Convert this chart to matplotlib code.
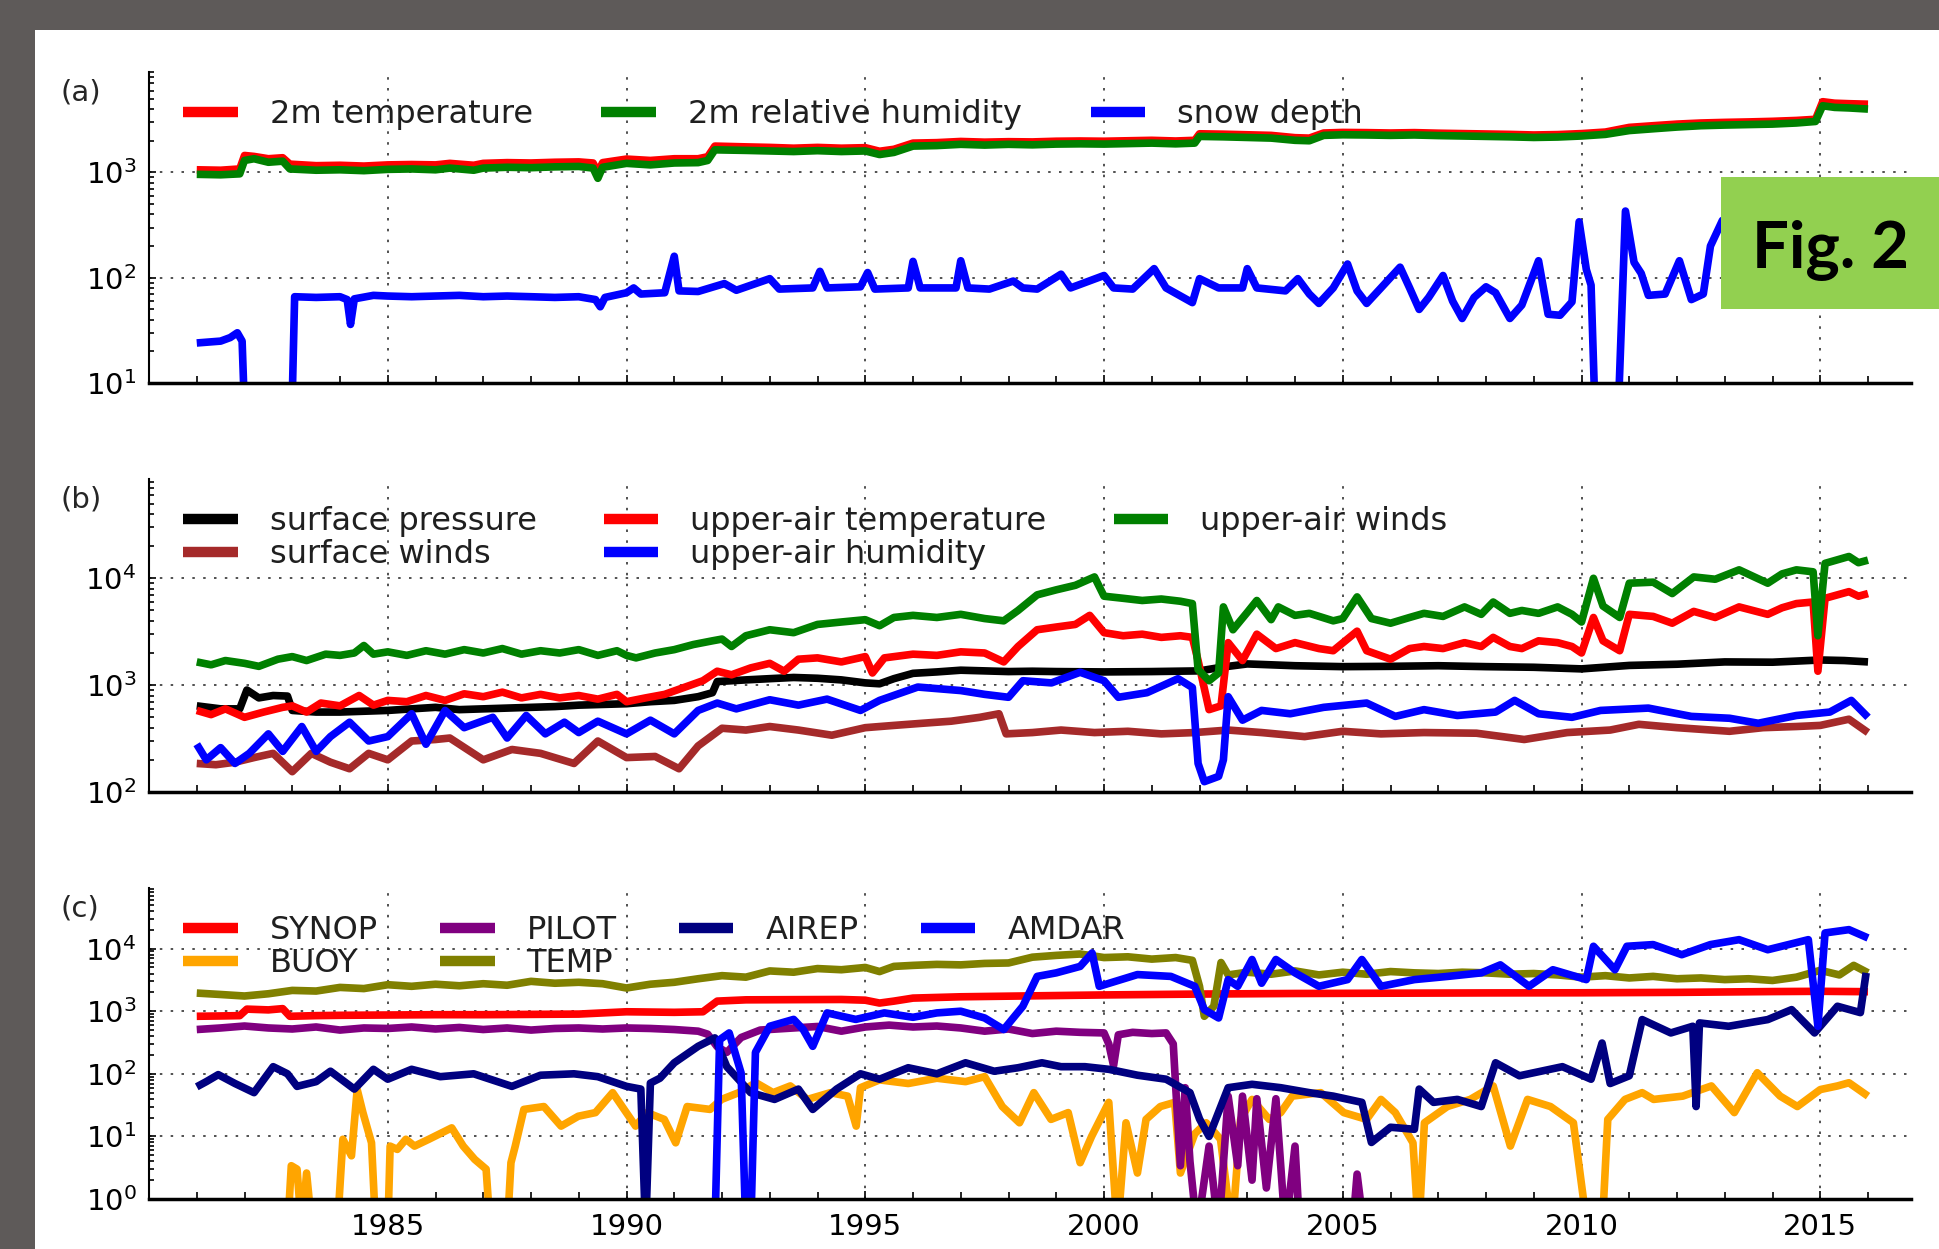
import numpy as np
import matplotlib
matplotlib.use("Agg")
import matplotlib.pyplot as plt
from matplotlib.patches import Rectangle
from matplotlib.ticker import LogLocator, NullFormatter, FixedLocator, MultipleLocator

# ---------------- panel (a): surface observations (year, count) ----------------
t2m = [(1981.0, 1060), (1981.5, 1050), (1981.9, 1080), (1982.0, 1450), (1982.2, 1420),
       (1982.5, 1350), (1982.8, 1380), (1982.95, 1200), (1983.5, 1160), (1984.0, 1170),
       (1984.5, 1150), (1985.0, 1180), (1985.5, 1190), (1986.0, 1180), (1986.3, 1220),
       (1986.8, 1170), (1987.0, 1220), (1987.5, 1240), (1988.0, 1230), (1988.5, 1250),
       (1989.0, 1260), (1989.3, 1230), (1989.4, 1000), (1989.5, 1240), (1990.0, 1340),
       (1990.5, 1300), (1991.0, 1350), (1991.5, 1350), (1991.7, 1410), (1991.85, 1780),
       (1992.5, 1750), (1993.0, 1730), (1993.5, 1700), (1994.0, 1730), (1994.5, 1700),
       (1995.0, 1720), (1995.3, 1590), (1995.6, 1660), (1996.0, 1900), (1996.5, 1920),
       (1997.0, 1970), (1997.5, 1940), (1998.0, 1960), (1998.5, 1950), (1999.0, 1980),
       (1999.5, 1990), (2000.0, 1980), (2000.5, 2000), (2001.0, 2020), (2001.5, 1990),
       (2001.9, 2020), (2002.0, 2330), (2002.5, 2310), (2003.0, 2280), (2003.5, 2250),
       (2004.0, 2140), (2004.3, 2120), (2004.6, 2370), (2005.0, 2400), (2005.5, 2390),
       (2006.0, 2370), (2006.5, 2390), (2007.0, 2360), (2007.5, 2340), (2008.0, 2320),
       (2008.5, 2300), (2009.0, 2270), (2009.5, 2290), (2010.0, 2340), (2010.5, 2420),
       (2011.0, 2680), (2011.5, 2780), (2012.0, 2880), (2012.5, 2950), (2013.0, 2990),
       (2013.5, 3020), (2014.0, 3060), (2014.5, 3120), (2014.9, 3200), (2015.05, 4700),
       (2015.3, 4550), (2015.6, 4500), (2016.0, 4450)]
rh2m = [(1981.0, 960), (1981.5, 950), (1981.9, 970), (1982.0, 1300), (1982.2, 1350),
        (1982.5, 1250), (1982.8, 1280), (1982.95, 1080), (1983.5, 1050), (1984.0, 1060),
        (1984.5, 1040), (1985.0, 1070), (1985.5, 1080), (1986.0, 1060), (1986.3, 1100),
        (1986.8, 1050), (1987.0, 1100), (1987.5, 1120), (1988.0, 1110), (1988.5, 1130),
        (1989.0, 1140), (1989.3, 1100), (1989.4, 880), (1989.5, 1120), (1990.0, 1220),
        (1990.5, 1180), (1991.0, 1230), (1991.5, 1240), (1991.7, 1300), (1991.85, 1640),
        (1992.5, 1620), (1993.0, 1600), (1993.5, 1580), (1994.0, 1610), (1994.5, 1580),
        (1995.0, 1600), (1995.3, 1480), (1995.6, 1550), (1996.0, 1780), (1996.5, 1800),
        (1997.0, 1850), (1997.5, 1820), (1998.0, 1850), (1998.5, 1830), (1999.0, 1860),
        (1999.5, 1870), (2000.0, 1860), (2000.5, 1880), (2001.0, 1900), (2001.5, 1870),
        (2001.9, 1900), (2002.0, 2200), (2002.5, 2180), (2003.0, 2150), (2003.5, 2120),
        (2004.0, 2020), (2004.3, 2000), (2004.6, 2250), (2005.0, 2280), (2005.5, 2270),
        (2006.0, 2250), (2006.5, 2270), (2007.0, 2240), (2007.5, 2220), (2008.0, 2200),
        (2008.5, 2180), (2009.0, 2150), (2009.5, 2170), (2010.0, 2220), (2010.5, 2300),
        (2011.0, 2500), (2011.5, 2600), (2012.0, 2700), (2012.5, 2780), (2013.0, 2820),
        (2013.5, 2850), (2014.0, 2880), (2014.5, 2950), (2014.9, 3050), (2015.05, 4300),
        (2015.3, 4150), (2015.6, 4100), (2016.0, 4000)]
snow = [(1981.0, 24), (1981.5, 25), (1981.7, 27), (1981.85, 30), (1981.95, 25), (1982.02, 3),
        (1982.98, 3), (1983.05, 66), (1983.5, 65), (1984.0, 66), (1984.15, 62), (1984.22, 36),
        (1984.3, 63), (1984.7, 68), (1985.0, 67), (1985.5, 66), (1986.0, 67), (1986.5, 68),
        (1987.0, 66), (1987.5, 67), (1988.0, 66), (1988.5, 65), (1989.0, 66), (1989.35, 62),
        (1989.45, 53), (1989.55, 65), (1990.0, 72), (1990.15, 80), (1990.3, 70), (1990.8, 72),
        (1991.0, 160), (1991.1, 75), (1991.5, 74), (1992.05, 88), (1992.3, 76), (1993.0, 98),
        (1993.2, 78), (1993.9, 80), (1994.05, 115), (1994.2, 80), (1994.9, 82), (1995.05, 112),
        (1995.2, 78), (1995.9, 80), (1996.0, 143), (1996.15, 80), (1996.9, 80), (1997.0, 145),
        (1997.15, 80), (1997.6, 78), (1998.1, 93), (1998.3, 80), (1998.6, 78), (1999.1, 108),
        (1999.3, 80), (2000.0, 105), (2000.2, 80), (2000.6, 78), (2001.05, 122), (2001.3, 80),
        (2001.85, 58), (2002.0, 98), (2002.4, 80), (2002.9, 80), (2003.0, 122), (2003.2, 80),
        (2003.8, 75), (2004.06, 98), (2004.3, 70), (2004.5, 57), (2004.8, 80), (2005.1, 135),
        (2005.3, 75), (2005.5, 57), (2005.8, 80), (2006.2, 126), (2006.4, 80), (2006.6, 50),
        (2006.8, 65), (2007.1, 105), (2007.3, 60), (2007.5, 41), (2007.75, 65), (2008.0, 82),
        (2008.2, 72), (2008.5, 41), (2008.75, 55), (2009.1, 145), (2009.3, 45), (2009.55, 44),
        (2009.8, 59), (2009.95, 340), (2010.1, 120), (2010.2, 85), (2010.3, 3), (2010.75, 3),
        (2010.92, 430), (2011.1, 140), (2011.25, 110), (2011.4, 68), (2011.75, 70),
        (2012.05, 145), (2012.3, 62), (2012.55, 70), (2012.7, 200), (2012.95, 350),
        (2013.3, 420), (2013.8, 400), (2014.5, 300), (2015.2, 350), (2016.0, 300)]

# ---------------- panel (b): observations by variable ----------------
sfc_pres = [(1981.0, 640), (1981.5, 600), (1981.9, 600), (1982.05, 900), (1982.3, 760),
            (1982.6, 800), (1982.9, 790), (1983.0, 580), (1983.5, 560), (1984.0, 560),
            (1984.5, 570), (1985.0, 580), (1985.5, 600), (1986.0, 620), (1986.5, 590),
            (1987.0, 600), (1987.5, 610), (1988.0, 620), (1988.5, 630), (1989.0, 650),
            (1989.5, 660), (1990.0, 670), (1990.5, 700), (1991.0, 720), (1991.5, 780),
            (1991.8, 850), (1991.9, 1080), (1992.5, 1120), (1993.0, 1150), (1993.5, 1180),
            (1994.0, 1160), (1994.5, 1120), (1995.0, 1050), (1995.3, 1030), (1995.6, 1150),
            (1996.0, 1290), (1996.5, 1330), (1997.0, 1380), (1997.5, 1360), (1998.0, 1340),
            (1998.5, 1350), (1999.0, 1340), (2000.0, 1330), (2001.0, 1340), (2002.0, 1360),
            (2002.5, 1480), (2003.0, 1580), (2004.0, 1520), (2005.0, 1490), (2006.0, 1500),
            (2007.0, 1520), (2008.0, 1490), (2009.0, 1470), (2010.0, 1420), (2011.0, 1530),
            (2012.0, 1570), (2013.0, 1650), (2014.0, 1640), (2015.0, 1720), (2015.5, 1700),
            (2016.0, 1650)]
sfc_wind = [(1981.0, 185), (1981.4, 180), (1981.8, 190), (1982.2, 210), (1982.6, 230),
            (1983.0, 155), (1983.4, 230), (1983.8, 190), (1984.2, 165), (1984.6, 230),
            (1985.0, 200), (1985.5, 300), (1986.0, 310), (1986.3, 320), (1987.0, 200),
            (1987.6, 250), (1988.2, 230), (1988.9, 185), (1989.4, 300), (1990.0, 210),
            (1990.6, 215), (1991.1, 165), (1991.5, 270), (1992.0, 395), (1992.5, 380),
            (1993.0, 410), (1993.6, 380), (1994.3, 340), (1995.0, 400), (1995.6, 420),
            (1996.2, 440), (1996.8, 460), (1997.4, 500), (1997.8, 540), (1997.95, 350),
            (1998.5, 360), (1999.1, 380), (1999.8, 360), (2000.5, 370), (2001.2, 350),
            (2001.9, 360), (2002.6, 380), (2003.3, 360), (2004.2, 330), (2005.0, 370),
            (2005.8, 350), (2006.7, 360), (2007.8, 355), (2008.8, 310), (2009.7, 360),
            (2010.6, 380), (2011.2, 430), (2012.0, 400), (2013.1, 370), (2013.8, 400),
            (2014.5, 410), (2015.0, 420), (2015.6, 480), (2016.0, 360)]
ua_temp = [(1981.0, 580), (1981.3, 530), (1981.6, 600), (1982.0, 500), (1982.4, 560),
           (1982.8, 620), (1983.0, 640), (1983.3, 560), (1983.6, 680), (1984.0, 640),
           (1984.4, 800), (1984.7, 650), (1985.0, 720), (1985.4, 700), (1985.8, 800),
           (1986.2, 720), (1986.6, 830), (1987.0, 780), (1987.4, 860), (1987.8, 760),
           (1988.2, 820), (1988.6, 760), (1989.0, 800), (1989.4, 740), (1989.8, 820),
           (1990.0, 700), (1990.4, 760), (1990.8, 820), (1991.2, 950), (1991.6, 1100),
           (1991.9, 1350), (1992.2, 1250), (1992.6, 1450), (1993.0, 1600), (1993.3, 1350),
           (1993.6, 1750), (1994.0, 1800), (1994.5, 1650), (1995.0, 1850), (1995.15, 1300),
           (1995.4, 1800), (1996.0, 1950), (1996.5, 1900), (1997.0, 2050), (1997.5, 2000),
           (1997.9, 1650), (1998.2, 2300), (1998.6, 3300), (1999.0, 3500), (1999.4, 3700),
           (1999.7, 4500), (2000.0, 3100), (2000.4, 2900), (2000.8, 3000), (2001.2, 2800),
           (2001.6, 2900), (2001.85, 2800), (2001.97, 1700), (2002.2, 590), (2002.45, 640),
           (2002.6, 2500), (2002.9, 1700), (2003.2, 3000), (2003.6, 2200), (2004.0, 2500),
           (2004.5, 2200), (2004.8, 2100), (2005.3, 3200), (2005.5, 2100), (2006.0, 1750),
           (2006.4, 2200), (2006.7, 2300), (2007.1, 2200), (2007.55, 2500), (2007.9, 2300),
           (2008.15, 2800), (2008.5, 2300), (2008.75, 2200), (2009.1, 2600), (2009.5, 2500),
           (2009.8, 2300), (2010.0, 2000), (2010.25, 4300), (2010.45, 2600), (2010.8, 2100),
           (2011.0, 4600), (2011.5, 4400), (2011.9, 3800), (2012.35, 4900), (2012.8, 4300),
           (2013.3, 5400), (2013.9, 4600), (2014.2, 5300), (2014.5, 5800), (2014.85, 6000),
           (2014.95, 1350), (2015.1, 6500), (2015.6, 7500), (2015.8, 6800), (2016.0, 7200)]
ua_hum = [(1981.0, 280), (1981.2, 200), (1981.5, 260), (1981.8, 185), (1982.1, 230),
          (1982.5, 350), (1982.8, 240), (1983.2, 410), (1983.5, 240), (1983.8, 330),
          (1984.2, 450), (1984.6, 300), (1985.0, 330), (1985.5, 540), (1985.8, 280),
          (1986.2, 580), (1986.6, 400), (1987.2, 500), (1987.5, 320), (1987.9, 520),
          (1988.3, 350), (1988.7, 450), (1989.0, 360), (1989.4, 460), (1990.0, 350),
          (1990.5, 470), (1991.0, 350), (1991.5, 580), (1991.9, 680), (1992.3, 600),
          (1993.0, 730), (1993.6, 650), (1994.2, 740), (1994.9, 580), (1995.3, 720),
          (1996.1, 960), (1997.0, 890), (1997.5, 820), (1998.0, 770), (1998.3, 1100),
          (1998.9, 1050), (1999.5, 1320), (2000.0, 1100), (2000.3, 770), (2000.9, 850),
          (2001.55, 1150), (2001.85, 950), (2001.97, 185), (2002.1, 125), (2002.4, 140),
          (2002.5, 200), (2002.6, 780), (2002.9, 470), (2003.3, 580), (2003.9, 540),
          (2004.6, 620), (2005.5, 680), (2006.1, 510), (2006.7, 590), (2007.4, 520),
          (2008.2, 560), (2008.6, 720), (2009.1, 540), (2009.8, 500), (2010.4, 580),
          (2011.4, 610), (2012.3, 510), (2013.1, 490), (2013.7, 440), (2014.5, 520),
          (2015.2, 560), (2015.65, 720), (2016.0, 500)]
ua_wind = [(1981.0, 1650), (1981.3, 1550), (1981.6, 1700), (1982.0, 1600), (1982.3, 1500),
           (1982.7, 1750), (1983.0, 1850), (1983.3, 1700), (1983.7, 1950), (1984.0, 1900),
           (1984.3, 2000), (1984.5, 2350), (1984.7, 1950), (1985.0, 2050), (1985.4, 1900),
           (1985.8, 2100), (1986.2, 1950), (1986.6, 2150), (1987.0, 2000), (1987.4, 2200),
           (1987.8, 1950), (1988.2, 2100), (1988.6, 2000), (1989.0, 2150), (1989.4, 1900),
           (1989.8, 2100), (1990.0, 1900), (1990.2, 1800), (1990.6, 2000), (1991.0, 2150),
           (1991.4, 2400), (1991.8, 2600), (1992.0, 2700), (1992.2, 2300), (1992.5, 2900),
           (1993.0, 3300), (1993.5, 3100), (1994.0, 3700), (1994.5, 3900), (1995.0, 4100),
           (1995.3, 3600), (1995.6, 4300), (1996.0, 4500), (1996.5, 4300), (1997.0, 4600),
           (1997.5, 4200), (1997.9, 4000), (1998.2, 5000), (1998.6, 7000), (1999.0, 7800),
           (1999.4, 8600), (1999.8, 10300), (2000.0, 6800), (2000.4, 6500), (2000.8, 6200),
           (2001.2, 6400), (2001.6, 6100), (2001.85, 5800), (2001.97, 1400), (2002.2, 1100),
           (2002.4, 1300), (2002.5, 5400), (2002.7, 3300), (2003.0, 4800), (2003.2, 6200),
           (2003.5, 4100), (2003.65, 5400), (2004.0, 4500), (2004.3, 4700), (2004.8, 4000),
           (2005.0, 4200), (2005.3, 6700), (2005.6, 4200), (2006.0, 3800), (2006.4, 4300),
           (2006.7, 4700), (2007.1, 4400), (2007.55, 5400), (2007.9, 4600), (2008.15, 6000),
           (2008.5, 4700), (2008.75, 5000), (2009.1, 4700), (2009.5, 5400), (2009.8, 4600),
           (2010.0, 3900), (2010.25, 10000), (2010.45, 5500), (2010.8, 4300), (2011.0, 9000),
           (2011.5, 9200), (2011.9, 7200), (2012.35, 10300), (2012.8, 9800), (2013.3, 12000),
           (2013.9, 9000), (2014.2, 11000), (2014.5, 12000), (2014.85, 11500),
           (2014.95, 2900), (2015.1, 13800), (2015.6, 16000), (2015.8, 14000), (2016.0, 14800)]

# ---------------- panel (c): observations by report type ----------------
synop = [(1981.0, 830), (1981.5, 840), (1981.9, 850), (1982.05, 1080), (1982.5, 1050),
         (1982.8, 1100), (1982.95, 830), (1983.5, 850), (1984.0, 860), (1985.0, 870),
         (1986.0, 880), (1987.0, 880), (1988.0, 890), (1989.0, 900), (1990.0, 980),
         (1991.0, 960), (1991.6, 980), (1991.9, 1450), (1992.5, 1520), (1993.5, 1530),
         (1994.5, 1540), (1995.0, 1500), (1995.3, 1350), (1995.6, 1450), (1996.0, 1620),
         (1997.0, 1700), (1998.0, 1740), (1999.0, 1780), (2000.0, 1820), (2002.0, 1880),
         (2004.0, 1920), (2006.0, 1940), (2008.0, 1960), (2010.0, 1970), (2012.0, 2000),
         (2014.0, 2060), (2015.0, 2080), (2016.0, 2050)]
buoy = [(1982.9, 0.3), (1982.98, 3.4), (1983.1, 3.0), (1983.2, 0.3), (1983.3, 2.6),
        (1983.42, 0.3), (1983.94, 0.3), (1984.06, 9.0), (1984.24, 4.9), (1984.36, 56),
        (1984.48, 24), (1984.66, 7.9), (1984.75, 0.3), (1985.0, 0.3), (1985.05, 7.0),
        (1985.2, 6.2), (1985.38, 9.0), (1985.56, 7.0), (1985.86, 9.0), (1986.34, 13.7),
        (1986.58, 7.0), (1986.82, 4.3), (1987.06, 3.0), (1987.15, 0.3), (1987.5, 0.3),
        (1987.58, 3.8), (1987.67, 7.0), (1987.85, 27), (1988.27, 30), (1988.63, 14.6),
        (1988.99, 21), (1989.35, 24), (1989.71, 50), (1990.19, 14.6), (1990.43, 24),
        (1990.79, 18.7), (1991.03, 7.9), (1991.27, 30), (1991.75, 27), (1991.99, 39),
        (1992.35, 50), (1992.71, 72), (1993.07, 50), (1993.43, 64), (1993.79, 39),
        (1994.27, 50), (1994.63, 44), (1994.81, 14.6), (1994.9, 60), (1995.3, 80),
        (1995.9, 70), (1996.5, 85), (1997.1, 75), (1997.5, 90), (1997.87, 30),
        (1998.23, 16.5), (1998.53, 50), (1998.89, 18.7), (1999.25, 24), (1999.5, 3.8),
        (1999.74, 10), (2000.1, 35), (2000.28, 0.3), (2000.46, 16.5), (2000.7, 2.6),
        (2000.88, 18.7), (2001.18, 30), (2001.48, 35), (2001.6, 2.6), (2001.9, 11),
        (2002.14, 16.5), (2002.44, 9), (2002.68, 0.3), (2002.86, 18.7), (2003.1, 39),
        (2003.46, 18.7), (2003.7, 24), (2003.94, 44), (2004.54, 50), (2005.02, 24),
        (2005.5, 18.7), (2005.8, 39), (2006.1, 24), (2006.47, 7.9), (2006.59, 0.3),
        (2006.71, 16.5), (2007.19, 30), (2007.67, 39), (2008.15, 64), (2008.51, 7.0),
        (2008.87, 39), (2009.35, 30), (2009.83, 16.5), (2010.13, 0.3), (2010.43, 0.3),
        (2010.55, 18.7), (2010.91, 39), (2011.27, 50), (2011.51, 39), (2012.12, 44),
        (2012.72, 64), (2013.2, 24), (2013.68, 104), (2014.16, 44), (2014.52, 30),
        (2015.0, 56), (2015.36, 64), (2015.6, 72), (2016.0, 44)]
pilot = [(1981.0, 510), (1981.5, 540), (1982.0, 580), (1982.5, 540), (1983.0, 520),
         (1983.5, 560), (1984.0, 500), (1984.5, 540), (1985.0, 530), (1985.5, 560),
         (1986.0, 520), (1986.5, 550), (1987.0, 510), (1987.5, 540), (1988.0, 500),
         (1988.5, 530), (1989.0, 540), (1989.5, 520), (1990.0, 540), (1990.5, 530),
         (1991.0, 510), (1991.5, 480), (1991.7, 430), (1991.9, 270), (1992.1, 220),
         (1992.4, 380), (1992.8, 500), (1993.5, 540), (1994.0, 570), (1994.5, 480),
         (1995.0, 560), (1995.5, 600), (1996.0, 560), (1996.5, 580), (1997.0, 540),
         (1997.5, 480), (1998.0, 520), (1998.5, 440), (1999.0, 480), (1999.5, 460),
         (2000.0, 450), (2000.1, 300), (2000.2, 135), (2000.3, 420), (2000.6, 460),
         (2001.0, 440), (2001.3, 450), (2001.45, 300), (2001.5, 64), (2001.6, 3.4),
         (2001.7, 60), (2001.8, 4), (2001.95, 0.3), (2002.2, 7), (2002.4, 0.3),
         (2002.6, 44), (2002.8, 3.4), (2002.9, 44), (2003.1, 2), (2003.2, 40),
         (2003.4, 1.5), (2003.6, 40), (2003.8, 0.3), (2004.0, 7), (2004.1, 0.3),
         (2005.2, 0.3), (2005.3, 2.5), (2005.45, 0.3)]
temp = [(1981.0, 1950), (1981.5, 1850), (1982.0, 1750), (1982.5, 1900), (1983.0, 2150),
        (1983.5, 2100), (1984.0, 2400), (1984.5, 2300), (1985.0, 2650), (1985.5, 2500),
        (1986.0, 2700), (1986.5, 2550), (1987.0, 2750), (1987.5, 2600), (1988.0, 3000),
        (1988.5, 2800), (1989.0, 2900), (1989.5, 2750), (1990.0, 2350), (1990.5, 2700),
        (1991.0, 2900), (1991.5, 3300), (1992.0, 3700), (1992.5, 3500), (1993.0, 4400),
        (1993.5, 4200), (1994.0, 4800), (1994.5, 4600), (1995.0, 5000), (1995.3, 4300),
        (1995.6, 5200), (1996.0, 5400), (1996.5, 5600), (1997.0, 5500), (1997.5, 5800),
        (1998.0, 5900), (1998.5, 7300), (1999.0, 7800), (1999.5, 8200), (2000.0, 7200),
        (2000.5, 7400), (2001.0, 6800), (2001.5, 7200), (2001.85, 6500), (2002.0, 2500),
        (2002.1, 830), (2002.3, 1200), (2002.45, 6000), (2002.6, 3800), (2003.0, 4200),
        (2003.5, 3900), (2004.0, 4400), (2004.5, 3800), (2005.0, 4200), (2005.5, 3900),
        (2006.0, 4300), (2006.5, 4100), (2007.0, 4000), (2007.5, 4200), (2008.0, 4100),
        (2008.5, 3900), (2009.0, 4000), (2009.5, 3800), (2010.0, 3500), (2010.5, 3700),
        (2011.0, 3400), (2011.5, 3600), (2012.0, 3300), (2012.5, 3400), (2013.0, 3200),
        (2013.5, 3300), (2014.0, 3100), (2014.5, 3500), (2015.0, 4500), (2015.4, 3800),
        (2015.7, 5400), (2016.0, 4100)]
airep = [(1981.0, 62), (1981.2, 75), (1981.45, 97), (1981.8, 70), (1982.2, 50),
         (1982.6, 130), (1982.9, 100), (1983.1, 63), (1983.5, 75), (1983.8, 110),
         (1984.3, 57), (1984.7, 118), (1985.0, 82), (1985.5, 118), (1986.1, 90),
         (1986.8, 100), (1987.6, 63), (1988.2, 95), (1988.9, 100), (1989.4, 90),
         (1990.0, 63), (1990.3, 57), (1990.4, 0.3), (1990.5, 71), (1990.7, 85),
         (1991.0, 150), (1991.5, 275), (1991.85, 375), (1992.1, 130), (1992.6, 50),
         (1993.1, 39), (1993.6, 57), (1993.9, 27), (1994.4, 57), (1994.9, 100),
         (1995.3, 82), (1995.9, 125), (1996.5, 100), (1997.1, 150), (1997.7, 110),
         (1998.2, 125), (1998.7, 150), (1999.1, 130), (1999.6, 130), (2000.1, 118),
         (2000.7, 95), (2001.3, 82), (2001.8, 50), (2002.0, 19), (2002.2, 10),
         (2002.6, 60), (2003.1, 68), (2003.7, 60), (2004.3, 50), (2004.8, 44),
         (2005.4, 35), (2005.6, 8), (2006.0, 14), (2006.5, 13), (2006.6, 57),
         (2006.9, 35), (2007.4, 39), (2007.9, 30), (2008.2, 150), (2008.7, 93),
         (2009.6, 130), (2010.2, 82), (2010.43, 310), (2010.6, 70), (2011.0, 93),
         (2011.27, 735), (2011.87, 450), (2012.33, 575), (2012.4, 30), (2012.47, 650),
         (2013.08, 575), (2013.9, 735), (2014.4, 1060), (2014.88, 450), (2015.36, 1200),
         (2015.84, 950), (2015.96, 4100)]
amdar = [(1991.85, 0.3), (1991.95, 350), (1992.15, 450), (1992.4, 103), (1992.5, 0.3),
         (1992.6, 0.3), (1992.7, 220), (1993.0, 575), (1993.5, 740), (1993.7, 510),
         (1993.9, 275), (1994.2, 940), (1994.8, 740), (1995.4, 940), (1996.0, 800),
         (1996.5, 940), (1997.0, 1000), (1997.5, 780), (1997.9, 510), (1998.3, 1200),
         (1998.6, 3600), (1999.0, 4100), (1999.5, 5200), (1999.75, 8500), (1999.9, 2500),
         (2000.7, 3850), (2001.4, 3600), (2001.9, 2500), (2002.1, 1060), (2002.4, 780),
         (2002.6, 3200), (2002.8, 2500), (2003.1, 6700), (2003.3, 2800), (2003.6, 6700),
         (2004.0, 4100), (2004.5, 2500), (2005.1, 3200), (2005.4, 6700), (2005.8, 2500),
         (2006.5, 3200), (2007.2, 3600), (2007.9, 4100), (2008.3, 5500), (2008.9, 2500),
         (2009.4, 4600), (2010.1, 3200), (2010.25, 10900), (2010.7, 4600), (2010.95, 10900),
         (2011.5, 11600), (2012.1, 8000), (2012.7, 11600), (2013.3, 13900), (2013.9, 9600),
         (2014.75, 13900), (2014.95, 575), (2015.1, 17800), (2015.6, 20100), (2016.0, 14800)]

panels = [
    ("(a)", (10, 9000), [t2m, rh2m, snow], ["red", "green", "blue"],
     ["2m temperature", "2m relative humidity", "snow depth"], 3, 2.15),
    ("(b)", (100, 85000), [sfc_pres, sfc_wind, ua_temp, ua_hum, ua_wind],
     ["black", "brown", "red", "blue", "green"],
     ["surface pressure", "surface winds", "upper-air temperature",
      "upper-air humidity", "upper-air winds"], 3, 2.1),
    ("(c)", (1, 93000), [synop, buoy, pilot, temp, airep, amdar],
     ["red", "orange", "purple", "olive", "navy", "blue"],
     ["SYNOP", "BUOY", "PILOT", "TEMP", "AIREP", "AMDAR"], 4, 1.95),
]

plt.rcParams["font.family"] = "DejaVu Sans"
fig = plt.figure(figsize=(19.39, 12.49), dpi=100, facecolor="#5e5a59")
# white slide area
fig.add_artist(Rectangle((35 / 1939, 0), 1, 1 - 30 / 1249, transform=fig.transFigure,
                         facecolor="white", edgecolor="none", zorder=-10))

W, H = 1939, 1249
boxes = [(72, 383), (479, 792), (888, 1199)]   # top/bottom in pixels
left, right = 149, 1911

for (tag, ylim, series, colors, labels, ncol, colsp), (top, bot) in zip(panels, boxes):
    ax = fig.add_axes([left / W, 1 - bot / H, (right - left) / W, (bot - top) / H])
    for s, c, lab in zip(series, colors, labels):
        yr, val = zip(*s)
        ax.plot(yr, val, color=c, lw=5.5, label=lab, solid_capstyle="butt")

    ax.set_yscale("log")
    ax.set_xlim(1980, 2016.9)
    ax.set_ylim(*ylim)
    for side in ("top", "right"):
        ax.spines[side].set_visible(False)
    ax.spines["bottom"].set_linewidth(2.5)
    ax.spines["left"].set_linewidth(1.5)

    ax.xaxis.set_major_locator(FixedLocator(range(1985, 2016, 5)))
    ax.xaxis.set_minor_locator(MultipleLocator(1))
    ax.yaxis.set_major_locator(LogLocator(10, numticks=20))
    ax.yaxis.set_minor_locator(LogLocator(10, subs=np.arange(2, 10), numticks=100))
    ax.yaxis.set_minor_formatter(NullFormatter())
    ax.tick_params(which="both", direction="in", top=False, right=False, width=1.2)
    ax.tick_params(axis="x", which="major", length=6, labelsize=21, pad=10)
    ax.tick_params(axis="x", which="minor", length=5)
    ax.tick_params(axis="y", which="major", length=5, labelsize=21, pad=9)
    ax.tick_params(axis="y", which="minor", length=3.5)
    if tag != "(c)":
        ax.tick_params(axis="x", labelbottom=False)
    ax.grid(True, which="major", ls=(0, (1.5, 5)), color="0.2", lw=1.2)

    ax.text(-0.0505, 1 - 20 / (bot - top), tag, transform=ax.transAxes,
            ha="left", va="center", fontsize=21, color="0.15")

    leg = ax.legend(loc="upper left", bbox_to_anchor=(34 / (right - left), 1 - 27 / (bot - top)),
                    ncol=ncol, frameon=False, fontsize=23, handlelength=1.71,
                    handletextpad=1.0, columnspacing=colsp, labelspacing=0.07,
                    borderpad=0, borderaxespad=0)
    for h in leg.legend_handles:
        h.set_linewidth(7.5)
    for t in leg.get_texts():
        t.set_color("0.12")

# slide label
fig.add_artist(Rectangle((1721 / W, 1 - 309 / H), (W - 1721) / W, 132 / H,
                         transform=fig.transFigure, facecolor="#92d050",
                         edgecolor="none", zorder=10))
fig.text(1831 / W, 1 - 268 / H, "Fig. 2", ha="center", va="baseline", fontsize=47,
         fontweight="bold", family="Lato", color="black", zorder=11)

fig.savefig("out.png", dpi=100, facecolor=fig.get_facecolor())
